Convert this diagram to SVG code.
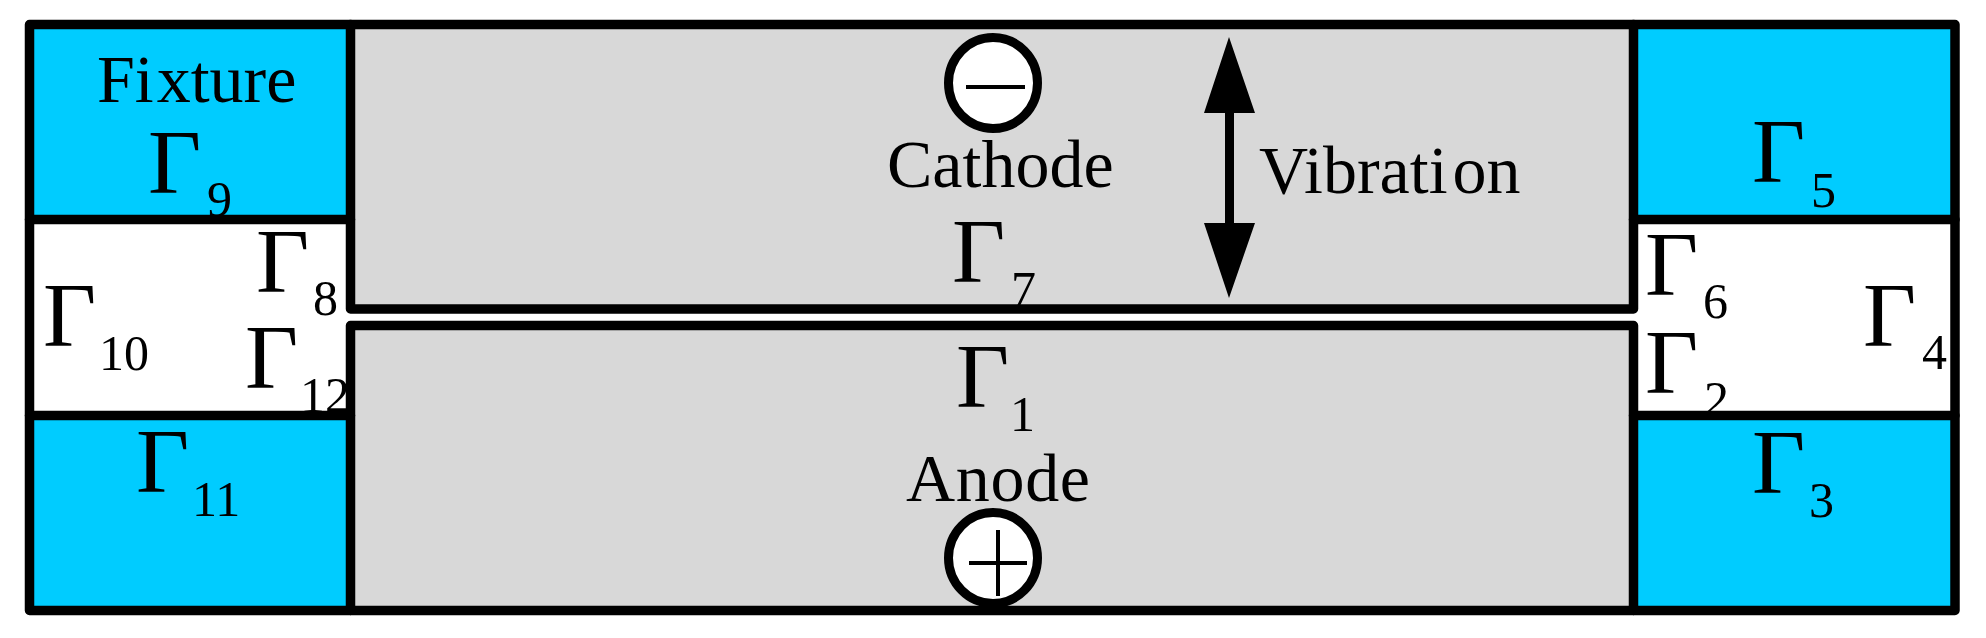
<svg xmlns="http://www.w3.org/2000/svg" width="1986" height="638" viewBox="0 0 1986 638">
<style>
text{font-family:"Liberation Serif","Times New Roman",serif;fill:#000}
.g{font-size:92px}.s{font-size:50px}.l{font-size:68px}
.blue{fill:#00ccff}.gray{fill:#d8d8d8}.white{fill:#fff}
.ln{stroke:#000;stroke-width:9.5;fill:none;stroke-linejoin:round;stroke-linecap:round}
.t{stroke:#000;stroke-width:4;fill:none}
</style>
<rect width="1986" height="638" fill="#fff"/>
<g id="fill-regions">
<rect class="blue" x="29" y="24" width="321" height="195"/>
<rect class="blue" x="29" y="415" width="321" height="195"/>
<rect class="blue" x="1634" y="24" width="321" height="195"/>
<rect class="blue" x="1634" y="415" width="321" height="195"/>
<rect class="gray" x="351" y="24" width="1283" height="285"/>
<rect class="gray" x="351" y="326" width="1283" height="285"/>
</g>
<g id="labels">
<text class="l" x="97" y="102">Fi<tspan dx="3">xture</tspan></text>
<g id="g9"><text class="g" x="148" y="193">Γ</text><text class="s" x="207" y="216">9</text></g>
<g id="g8"><text class="g" x="256" y="292">Γ</text><text class="s" x="313" y="315">8</text></g>
<g id="g10"><text class="g" x="43" y="346">Γ</text><text class="s" x="99" y="370">10</text></g>
<g id="g12"><text class="g" x="245" y="388">Γ</text><text class="s" x="300" y="412">12</text></g>
<g id="g11"><text class="g" x="136" y="492">Γ</text><text class="s" x="192" y="516">11</text></g>
<g id="g5"><text class="g" x="1752" y="182">Γ</text><text class="s" x="1811" y="207">5</text></g>
<g id="g6"><text class="g" x="1645" y="295">Γ</text><text class="s" x="1703" y="318">6</text></g>
<g id="g2"><text class="g" x="1645" y="393">Γ</text><text class="s" x="1704" y="416">2</text></g>
<g id="g4"><text class="g" x="1863" y="346">Γ</text><text class="s" x="1922" y="369">4</text></g>
<g id="g3"><text class="g" x="1752" y="493">Γ</text><text class="s" x="1809" y="517">3</text></g>
<g id="g7"><text class="g" x="952" y="282">Γ</text><text class="s" x="1011" y="306">7</text></g>
<g id="g1"><text class="g" x="956" y="407">Γ</text><text class="s" x="1010" y="431">1</text></g>
<text class="l" x="887" y="187">Cathode</text>
<text class="l" x="906" y="501" textLength="184">Anode</text>
<text class="l" x="1259" y="193">Vibrati<tspan dx="5">on</tspan></text>
</g>
<g id="frame">
<path class="ln" d="M29.5 24.5H1955V610.5H29.5Z"/>
<path class="ln" d="M29.5 219.5H350.5M29.5 415.5H350.5M1633.5 219.5H1955M1633.5 415.5H1955"/>
<path class="ln" d="M350.5 24.5V309H1633.5V24.5M350.5 610.5V325.5H1633.5V610.5"/>
</g>
<g id="cathode"><ellipse class="ln" style="fill:#fff;stroke-width:9" cx="993" cy="83" rx="44.5" ry="45.5"/><path class="t" d="M966 87H1025"/></g>
<g id="anode"><ellipse class="ln" style="fill:#fff;stroke-width:9" cx="993" cy="558" rx="44.5" ry="45.5"/><path class="t" d="M969 563H1027M998 530V596"/></g>
<g id="connectors"><path class="ln" style="stroke-linecap:butt;stroke-width:9" d="M1229.5 110V226"/><path d="M1229 37L1255 113H1204Z M1229 298L1255 223H1204Z" fill="#000"/></g>
</svg>
